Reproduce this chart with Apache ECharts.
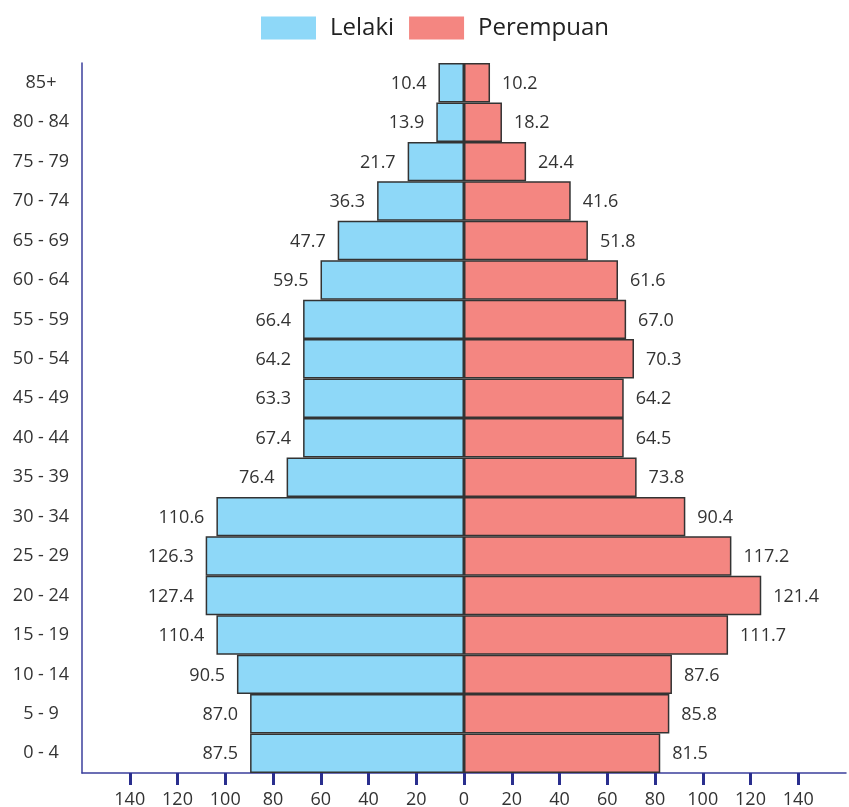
<!DOCTYPE html>
<html>
<head>
<meta charset="utf-8">
<script src="https://cdn.jsdelivr.net/npm/echarts@6/dist/echarts.min.js"></script>
<style>
html,body{margin:0;padding:0;background:#fff;}
#chart{width:849px;height:807px;}
</style>
</head>
<body>
<div id="chart"></div>
<script>
// Age groups, bottom to top
const ageGroups = ['0 - 4','5 - 9','10 - 14','15 - 19','20 - 24','25 - 29','30 - 34','35 - 39','40 - 44','45 - 49','50 - 54','55 - 59','60 - 64','65 - 69','70 - 74','75 - 79','80 - 84','85+'];
// Bar lengths as drawn in the picture
const maleBars   = [89.6, 89.6, 95.1, 103.7, 108.2, 108.2, 103.7, 74.3, 67.4, 67.4, 67.4, 67.4, 60.1, 52.9, 36.4, 23.6, 11.6, 10.7];
const femaleBars = [82.2, 86.0, 87.1, 110.6, 124.5, 112.0, 92.7, 72.3, 66.9, 66.9, 71.2, 67.9, 64.5, 51.9, 44.7, 26.0, 15.9, 10.9];
// Printed value labels
const maleLabels   = ['87.5','87.0','90.5','110.4','127.4','126.3','110.6','76.4','67.4','63.3','64.2','66.4','59.5','47.7','36.3','21.7','13.9','10.4'];
const femaleLabels = ['81.5','85.8','87.6','111.7','121.4','117.2','90.4','73.8','64.5','64.2','70.3','67.0','61.6','51.8','41.6','24.4','18.2','10.2'];
const xTicks = [-140,-120,-100,-80,-60,-40,-20,0,20,40,60,80,100,120,140];
const seriesNames = ['Lelaki','Perempuan'];

const FONT = "'Open Sans', 'Noto Sans', sans-serif";
const chart = echarts.init(document.getElementById('chart'), null, {renderer:'canvas'});
chart.setOption({
  animation:false,
  textStyle:{fontFamily:FONT},
  legend:{
    data:seriesNames,
    left:261, top:16, padding:0,
    itemWidth:55, itemHeight:23, itemGap:15,
    icon:'rect',
    itemStyle:{borderWidth:0},
    textStyle:{fontSize:24, color:'#222', fontFamily:FONT, padding:[0,0,0,9]}
  },
  grid:{left:82, width:764, top:63, height:710, containLabel:false, outerBoundsMode:'none'},
  xAxis:{
    type:'value', min:-160, max:160, interval:20,
    splitLine:{show:false},
    axisLine:{show:true, onZero:false, lineStyle:{color:'#3b3f9c', width:1.5}},
    axisTick:{show:true, customValues:xTicks, length:12, lineStyle:{color:'#2a2e8e', width:3}},
    axisLabel:{customValues:xTicks, margin:18, fontSize:18, color:'#333', fontFamily:FONT,
      formatter:v=>String(Math.abs(v))}
  },
  yAxis:{
    type:'category', data:ageGroups,
    axisLine:{show:true, onZero:false, lineStyle:{color:'#3b3f9c', width:1.5}},
    axisTick:{show:false},
    axisLabel:{margin:41, align:'center', fontSize:18, color:'#333', fontFamily:FONT, padding:[2,0,0,0]}
  },
  series:[
    {
      name:seriesNames[0], type:'bar',
      data:maleBars.map(v=>-v),
      barWidth:'100%', barGap:'-100%', barCategoryGap:0,
      itemStyle:{color:'#8ed8f8', borderColor:'#333', borderWidth:1.5},
      label:{show:true, position:'left', distance:12, offset:[0,1], fontSize:18, color:'#333', fontFamily:FONT,
        formatter:p=>maleLabels[p.dataIndex]}
    },
    {
      name:seriesNames[1], type:'bar',
      data:femaleBars,
      barWidth:'100%', barGap:'-100%', barCategoryGap:0,
      itemStyle:{color:'#f48681', borderColor:'#333', borderWidth:1.5},
      label:{show:true, position:'right', distance:12, offset:[0,1], fontSize:18, color:'#333', fontFamily:FONT,
        formatter:p=>femaleLabels[p.dataIndex]}
    }
  ]
});
</script>
</body>
</html>
